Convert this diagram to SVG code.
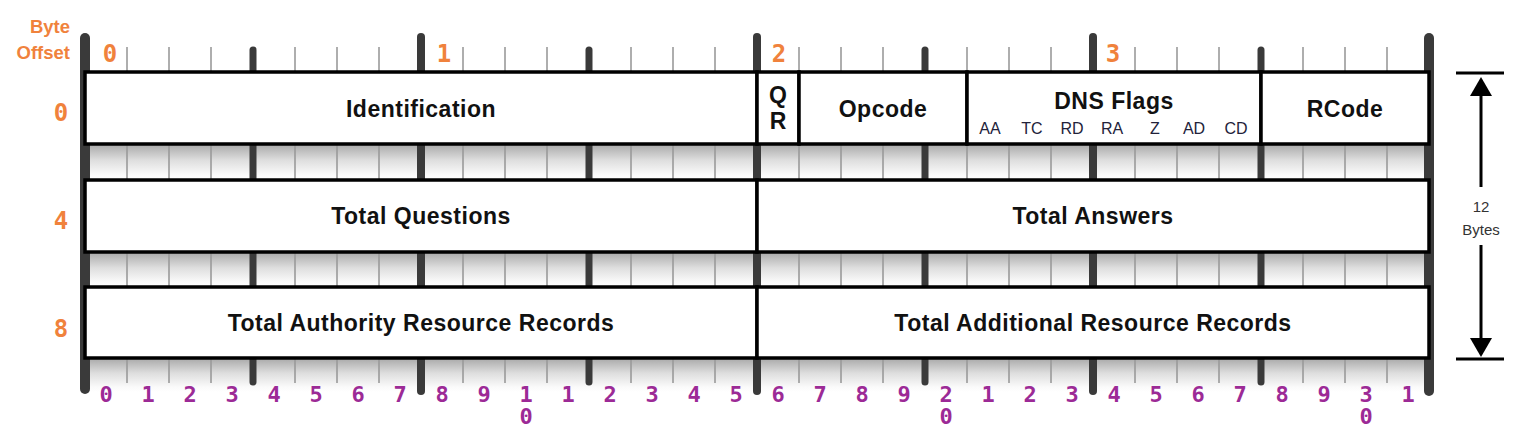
<svg xmlns="http://www.w3.org/2000/svg" width="1522" height="430" viewBox="0 0 1522 430">
<style>
.tick{stroke:#9a9a9a;stroke-width:1.6}
.nib{stroke:#3a3a3a;stroke-width:7;stroke-linecap:round}
.byte{stroke:#3a3a3a;stroke-width:8;stroke-linecap:round}
.outer{stroke:#3a3a3a;stroke-width:10;stroke-linecap:round}
.field{fill:#fff;stroke:#000;stroke-width:3.5}
.lbl{font-family:"Liberation Sans",Arial,sans-serif;font-weight:bold;font-size:23px;letter-spacing:0.5px;fill:#111;text-anchor:middle}
.flag{font-family:"Liberation Sans",Arial,sans-serif;font-size:16px;fill:#22223a;text-anchor:middle}
.org{font-family:"DejaVu Sans Mono",monospace;font-weight:bold;font-size:24px;fill:#f0823c;text-anchor:middle}
.orgt{font-family:"Liberation Sans",Arial,sans-serif;font-weight:bold;font-size:18.5px;fill:#f0823c;text-anchor:end}
.pur{font-family:"DejaVu Sans Mono",monospace;font-weight:bold;font-size:22px;fill:#9c2a96;text-anchor:middle}
.side{font-family:"Liberation Sans",Arial,sans-serif;font-size:15px;fill:#333;text-anchor:middle}
.arr{stroke:#000;stroke-width:3;fill:none}
</style>
<defs>
<linearGradient id="band" x1="0" y1="0" x2="0" y2="1">
<stop offset="0" stop-color="#a8a8a8"/>
<stop offset="0.45" stop-color="#dedede"/>
<stop offset="0.85" stop-color="#fafafa"/>
<stop offset="1" stop-color="#ffffff"/>
</linearGradient>
</defs>
<rect width="1522" height="430" fill="#fff"/>
<g id="bands">
<rect x="85" y="144" width="1344" height="36" fill="url(#band)"/>
<rect x="85" y="252" width="1344" height="35" fill="url(#band)"/>
<rect x="85" y="358" width="1344" height="34" fill="url(#band)"/>
</g>
<g id="ruler">
<g class="tick">
<line x1="127" y1="47" x2="127" y2="383"/><line x1="169" y1="47" x2="169" y2="383"/><line x1="211" y1="47" x2="211" y2="383"/>
<line x1="295" y1="47" x2="295" y2="383"/><line x1="337" y1="47" x2="337" y2="383"/><line x1="379" y1="47" x2="379" y2="383"/>
<line x1="463" y1="47" x2="463" y2="383"/><line x1="505" y1="47" x2="505" y2="383"/><line x1="547" y1="47" x2="547" y2="383"/>
<line x1="631" y1="47" x2="631" y2="383"/><line x1="673" y1="47" x2="673" y2="383"/><line x1="715" y1="47" x2="715" y2="383"/>
<line x1="799" y1="47" x2="799" y2="383"/><line x1="841" y1="47" x2="841" y2="383"/><line x1="883" y1="47" x2="883" y2="383"/>
<line x1="967" y1="47" x2="967" y2="383"/><line x1="1009" y1="47" x2="1009" y2="383"/><line x1="1051" y1="47" x2="1051" y2="383"/>
<line x1="1135" y1="47" x2="1135" y2="383"/><line x1="1177" y1="47" x2="1177" y2="383"/><line x1="1219" y1="47" x2="1219" y2="383"/>
<line x1="1303" y1="47" x2="1303" y2="383"/><line x1="1345" y1="47" x2="1345" y2="383"/><line x1="1387" y1="47" x2="1387" y2="383"/>
</g>
<g class="nib">
<line x1="253" y1="50" x2="253" y2="382"/><line x1="589" y1="50" x2="589" y2="382"/><line x1="925" y1="50" x2="925" y2="382"/><line x1="1261" y1="50" x2="1261" y2="382"/>
</g>
<g class="byte">
<line x1="421" y1="37" x2="421" y2="391"/><line x1="757" y1="37" x2="757" y2="391"/><line x1="1093" y1="37" x2="1093" y2="391"/>
</g>
<g class="outer">
<line x1="85" y1="38" x2="85" y2="389"/><line x1="1429" y1="38" x2="1429" y2="391"/>
</g>
</g>
<g id="field-identification"><rect class="field" x="85" y="72" width="672" height="72"/><text class="lbl" x="421" y="117">Identification</text></g>
<g id="field-qr"><rect class="field" x="757" y="72" width="42" height="72"/><text class="lbl" x="778" y="103" style="letter-spacing:0">Q</text><text class="lbl" x="778" y="129" style="letter-spacing:0">R</text></g>
<g id="field-opcode"><rect class="field" x="799" y="72" width="168" height="72"/><text class="lbl" x="883" y="117">Opcode</text></g>
<g id="field-dnsflags"><rect class="field" x="967" y="72" width="294" height="72"/><text class="lbl" x="1114" y="109">DNS Flags</text>
<text class="flag" x="990" y="134">AA</text><text class="flag" x="1032" y="134">TC</text><text class="flag" x="1072" y="134">RD</text><text class="flag" x="1112" y="134">RA</text><text class="flag" x="1155" y="134">Z</text><text class="flag" x="1194" y="134">AD</text><text class="flag" x="1236" y="134">CD</text></g>
<g id="field-rcode"><rect class="field" x="1261" y="72" width="168" height="72"/><text class="lbl" x="1345" y="117">RCode</text></g>
<g id="field-questions"><rect class="field" x="85" y="180" width="672" height="72"/><text class="lbl" x="421" y="224">Total Questions</text></g>
<g id="field-answers"><rect class="field" x="757" y="180" width="672" height="72"/><text class="lbl" x="1093" y="224">Total Answers</text></g>
<g id="field-authority"><rect class="field" x="85" y="287" width="672" height="71"/><text class="lbl" x="421" y="331">Total Authority Resource Records</text></g>
<g id="field-additional"><rect class="field" x="757" y="287" width="672" height="71"/><text class="lbl" x="1093" y="331">Total Additional Resource Records</text></g>
<g id="offsets">
<text class="orgt" x="70" y="33">Byte</text>
<text class="orgt" x="70" y="59">Offset</text>
<text class="org" x="110" y="62">0</text>
<text class="org" x="444" y="62">1</text>
<text class="org" x="779" y="62">2</text>
<text class="org" x="1113" y="62">3</text>
<text class="org" x="61" y="121">0</text>
<text class="org" x="61" y="229">4</text>
<text class="org" x="61" y="337">8</text>
</g>
<g id="bits">
<text class="pur" x="106" y="402">0</text><text class="pur" x="148" y="402">1</text><text class="pur" x="190" y="402">2</text><text class="pur" x="232" y="402">3</text>
<text class="pur" x="274" y="402">4</text><text class="pur" x="316" y="402">5</text><text class="pur" x="358" y="402">6</text><text class="pur" x="400" y="402">7</text>
<text class="pur" x="442" y="402">8</text><text class="pur" x="484" y="402">9</text><text class="pur" x="526" y="402">1</text><text class="pur" x="526" y="424">0</text><text class="pur" x="568" y="402">1</text>
<text class="pur" x="610" y="402">2</text><text class="pur" x="652" y="402">3</text><text class="pur" x="694" y="402">4</text><text class="pur" x="736" y="402">5</text>
<text class="pur" x="778" y="402">6</text><text class="pur" x="820" y="402">7</text><text class="pur" x="862" y="402">8</text><text class="pur" x="904" y="402">9</text>
<text class="pur" x="946" y="402">2</text><text class="pur" x="946" y="424">0</text><text class="pur" x="988" y="402">1</text><text class="pur" x="1030" y="402">2</text><text class="pur" x="1072" y="402">3</text>
<text class="pur" x="1114" y="402">4</text><text class="pur" x="1156" y="402">5</text><text class="pur" x="1198" y="402">6</text><text class="pur" x="1240" y="402">7</text>
<text class="pur" x="1282" y="402">8</text><text class="pur" x="1324" y="402">9</text><text class="pur" x="1366" y="402">3</text><text class="pur" x="1366" y="424">0</text><text class="pur" x="1408" y="402">1</text>
</g>
<g id="connectors">
<line class="arr" x1="1456" y1="73" x2="1504" y2="73"/>
<line class="arr" x1="1481" y1="94" x2="1481" y2="187"/>
<polygon points="1481,77 1470,96 1492,96" fill="#000"/>
<line class="arr" x1="1481" y1="245" x2="1481" y2="340"/>
<polygon points="1481,357 1470,338 1492,338" fill="#000"/>
<line class="arr" x1="1456" y1="359" x2="1504" y2="359"/>
</g>
<g id="size-label">
<text class="side" x="1481" y="212">12</text>
<text class="side" x="1481" y="235">Bytes</text>
</g>
</svg>
